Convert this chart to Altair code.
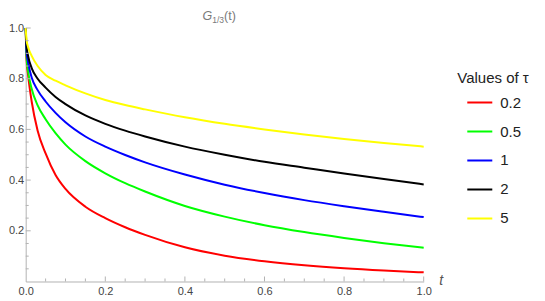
import altair as alt
import pandas as pd

# ---- data ----
t_vals = [0, 0.002, 0.006, 0.015, 0.03, 0.05, 0.075, 0.1, 0.15, 0.2, 0.25, 0.3,
          0.4, 0.5, 0.6, 0.7, 0.8, 0.9, 1.0]
g_tau_0_2 = [1.0, 0.88, 0.815, 0.71, 0.595, 0.505, 0.42, 0.365, 0.295, 0.25, 0.214, 0.184,
             0.135, 0.102, 0.080, 0.064, 0.052, 0.043, 0.036]
g_tau_0_5 = [1.0, 0.89, 0.83, 0.76, 0.695, 0.64, 0.585, 0.54, 0.475, 0.427, 0.388, 0.355,
             0.298, 0.256, 0.222, 0.195, 0.172, 0.151, 0.133]
g_tau_1 = [1.0, 0.91, 0.865, 0.805, 0.755, 0.71, 0.665, 0.628, 0.572, 0.532, 0.499, 0.47,
           0.422, 0.382, 0.349, 0.321, 0.297, 0.275, 0.254]
g_tau_2 = [1.0, 0.93, 0.89, 0.842, 0.80, 0.765, 0.728, 0.70, 0.655, 0.622, 0.595, 0.572,
           0.532, 0.500, 0.472, 0.449, 0.426, 0.404, 0.383]
g_tau_5 = [1.0, 0.955, 0.925, 0.89, 0.85, 0.815, 0.792, 0.774, 0.742, 0.716, 0.696, 0.679,
           0.648, 0.622, 0.600, 0.580, 0.562, 0.546, 0.532]

taus = ["0.2", "0.5", "1", "2", "5"]
series = [g_tau_0_2, g_tau_0_5, g_tau_1, g_tau_2, g_tau_5]
colors = ["#ff0000", "#00ff00", "#0000ff", "#000000", "#ffff00"]

x_major = [0.2, 0.4, 0.6, 0.8, 1.0]
x_minor = [0.05, 0.1, 0.15, 0.25, 0.3, 0.35, 0.45, 0.5, 0.55, 0.65, 0.7, 0.75, 0.85, 0.9, 0.95]
y_major = [0.2, 0.4, 0.6, 0.8, 1.0]
y_minor = [0.05, 0.1, 0.15, 0.25, 0.3, 0.35, 0.45, 0.5, 0.55, 0.65, 0.7, 0.75, 0.85, 0.9, 0.95]
x_labels = [0.0, 0.2, 0.4, 0.6, 0.8, 1.0]
y_labels = [0.2, 0.4, 0.6, 0.8, 1.0]

rows = []
for tau, ys in zip(taus, series):
    for t, g in zip(t_vals, ys):
        rows.append({"t": t, "g": g, "tau": tau})
df = pd.DataFrame(rows)

W, H = 398, 253.5
FONT = "Liberation Sans"
AX = "#b3b3b3"
LAB = "#444444"

xs = alt.Scale(domain=[0, 1], nice=False, zero=False)
ysc = alt.Scale(domain=[0, 1], nice=False, zero=False)

x_axis = alt.Axis(
    values=x_labels, format=".1f", title=None, ticks=False, grid=False,
    domainColor=AX, domainWidth=1, labelColor=LAB, labelFontSize=11,
    labelFont=FONT, labelPadding=4, labelOverlap=False, labelFlush=False)
y_axis = alt.Axis(
    values=y_labels, format=".1f", title=None, ticks=False, grid=False,
    domainColor=AX, domainWidth=1, labelColor=LAB, labelFontSize=11,
    labelFont=FONT, labelPadding=2, labelOverlap=False, labelFlush=False)

lines = alt.Chart(df).mark_line(strokeWidth=2, interpolate="monotone").encode(
    x=alt.X("t:Q", scale=xs, axis=x_axis),
    y=alt.Y("g:Q", scale=ysc, axis=y_axis),
    color=alt.Color("tau:N", sort=taus,
                    scale=alt.Scale(domain=taus, range=colors),
                    legend=alt.Legend(
                        title="Values of τ", orient="none",
                        legendX=431.6, legendY=43, padding=0,
                        titleFont=FONT, titleFontSize=15, titleFontWeight="normal",
                        titleColor="#222222", titlePadding=3,
                        labelFont=FONT, labelFontSize=15, labelColor="#222222",
                        symbolType="stroke", symbolSize=625, symbolStrokeWidth=2,
                        symbolOffset=9, labelOffset=7, rowPadding=7)),
    order=alt.Order("t:Q"),
)

def yticks(vals, length):
    return alt.Chart(pd.DataFrame({"g": vals})).mark_rule(color=AX, strokeWidth=1).encode(
        y=alt.Y("g:Q", scale=ysc, axis=y_axis),
        x=alt.value(0), x2=alt.value(length))

def xticks(vals, length):
    return alt.Chart(pd.DataFrame({"t": vals})).mark_rule(color=AX, strokeWidth=1).encode(
        x=alt.X("t:Q", scale=xs, axis=x_axis),
        y=alt.value(H), y2=alt.value(H - length))

def label(txt, x, y, size, color, style="normal", align="left", baseline="alphabetic"):
    return alt.Chart(pd.DataFrame({"s": [txt]})).mark_text(
        font=FONT, fontSize=size, color=color, fontStyle=style,
        align=align, baseline=baseline).encode(
        text="s:N", x=alt.value(x), y=alt.value(y))

title_g = label("G", 176.8, -8, 12.5, "#7a7a7a", style="italic")
title_sub = label("1/3", 186.6, -5, 8.5, "#7a7a7a")
title_t = label("(t)", 198.4, -8, 12.5, "#7a7a7a")
t_label = label("t", 415.5, H, 14, "#555555", style="italic", align="center", baseline="middle")

chart = alt.layer(
    lines,
    yticks(y_minor, 3), yticks(y_major, 5),
    xticks(x_minor, 3), xticks(x_major, 5),
    title_g, title_sub, title_t, t_label,
).properties(
    width=W, height=H,
    autosize=alt.AutoSizeParams(type="none"),
    padding={"left": 17.7, "top": 20, "right": 110, "bottom": 17},
).configure_view(stroke=None)

chart.save("out.html", embed_options={"renderer": "svg", "actions": False})
